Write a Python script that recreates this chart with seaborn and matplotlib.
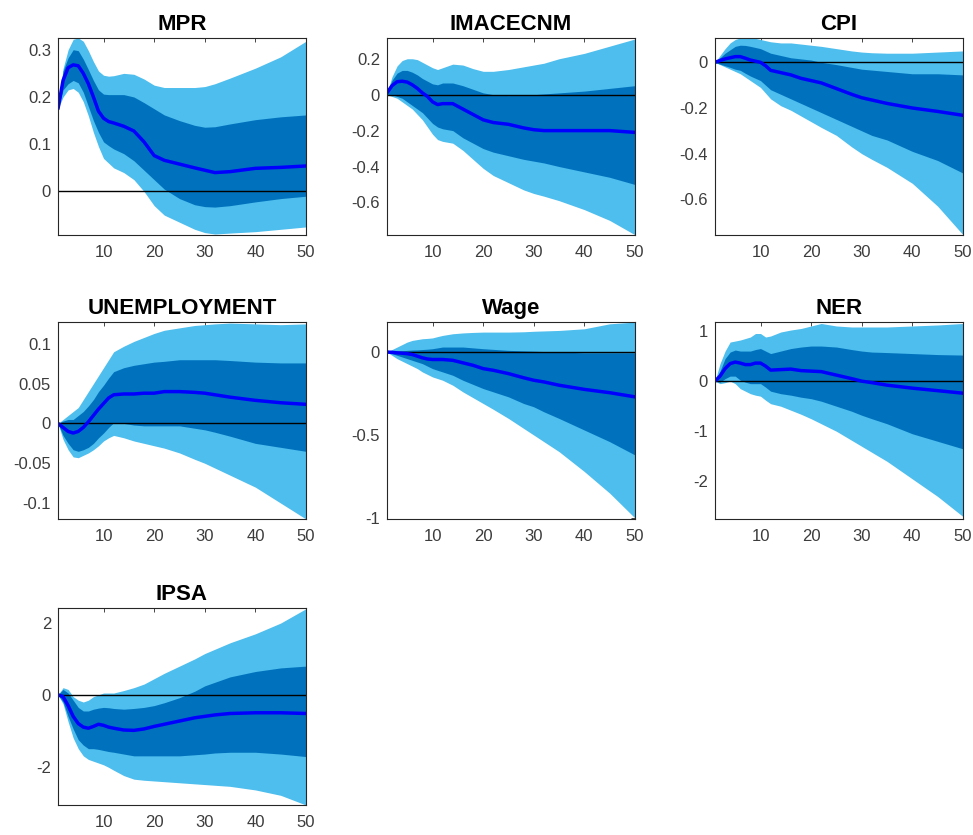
import seaborn as sns
import matplotlib.pyplot as plt
import pandas as pd

# horizons (periods after the shock)
H = [1, 2, 3, 4, 5, 6, 7, 8, 9, 10, 11, 12, 14, 16, 18, 20, 22, 25, 28, 30, 32, 35, 40, 45, 50]

# MPR
mpr_med = [0.175, 0.235, 0.262, 0.268, 0.266, 0.25, 0.228, 0.2, 0.17, 0.155, 0.148, 0.145, 0.138, 0.128, 0.105, 0.076, 0.066, 0.058, 0.05, 0.045, 0.04, 0.042, 0.049, 0.051, 0.054]
mpr_d_up = [0.175, 0.255, 0.283, 0.30, 0.298, 0.28, 0.258, 0.235, 0.215, 0.206, 0.205, 0.205, 0.205, 0.2, 0.188, 0.175, 0.162, 0.15, 0.14, 0.136, 0.137, 0.143, 0.152, 0.158, 0.162]
mpr_d_lo = [0.175, 0.215, 0.228, 0.235, 0.23, 0.21, 0.18, 0.15, 0.125, 0.105, 0.097, 0.09, 0.08, 0.065, 0.045, 0.025, 0.005, -0.015, -0.028, -0.032, -0.033, -0.03, -0.022, -0.015, -0.01]
mpr_l_up = [0.175, 0.26, 0.30, 0.322, 0.325, 0.318, 0.298, 0.275, 0.255, 0.246, 0.244, 0.245, 0.25, 0.248, 0.238, 0.225, 0.22, 0.22, 0.22, 0.222, 0.228, 0.24, 0.261, 0.285, 0.318]
mpr_l_lo = [0.175, 0.2, 0.215, 0.218, 0.21, 0.19, 0.16, 0.125, 0.095, 0.07, 0.06, 0.05, 0.04, 0.025, 0.0, -0.03, -0.05, -0.065, -0.08, -0.087, -0.09, -0.088, -0.085, -0.08, -0.075]

# IMACECNM
ima_med = [0.01, 0.05, 0.072, 0.075, 0.07, 0.055, 0.035, 0.01, -0.01, -0.04, -0.055, -0.05, -0.05, -0.08, -0.11, -0.14, -0.155, -0.165, -0.185, -0.195, -0.2, -0.2, -0.2, -0.2, -0.21]
ima_d_up = [0.01, 0.08, 0.12, 0.135, 0.135, 0.125, 0.11, 0.09, 0.075, 0.06, 0.055, 0.065, 0.065, 0.05, 0.03, 0.01, 0.0, -0.005, -0.003, 0.0, 0.004, 0.01, 0.02, 0.035, 0.05]
ima_d_lo = [0.0, 0.0, -0.01, -0.02, -0.04, -0.06, -0.08, -0.1, -0.13, -0.16, -0.18, -0.19, -0.2, -0.24, -0.27, -0.3, -0.32, -0.34, -0.36, -0.37, -0.38, -0.4, -0.43, -0.46, -0.5]
ima_l_up = [0.01, 0.1, 0.16, 0.19, 0.2, 0.2, 0.195, 0.18, 0.165, 0.15, 0.14, 0.15, 0.17, 0.165, 0.145, 0.13, 0.13, 0.14, 0.155, 0.165, 0.175, 0.2, 0.23, 0.27, 0.31]
ima_l_lo = [0.0, -0.01, -0.02, -0.04, -0.06, -0.08, -0.11, -0.14, -0.18, -0.22, -0.25, -0.26, -0.27, -0.31, -0.36, -0.41, -0.45, -0.49, -0.53, -0.55, -0.565, -0.59, -0.64, -0.7, -0.78]

# CPI
cpi_med = [0, 0.008, 0.015, 0.02, 0.025, 0.025, 0.018, 0.01, 0.005, 0.0, -0.015, -0.035, -0.045, -0.055, -0.07, -0.08, -0.09, -0.115, -0.14, -0.155, -0.165, -0.18, -0.2, -0.215, -0.232]
cpi_d_up = [0, 0.02, 0.04, 0.055, 0.07, 0.075, 0.074, 0.07, 0.065, 0.06, 0.05, 0.04, 0.03, 0.02, 0.015, 0.01, 0.0, -0.01, -0.022, -0.03, -0.034, -0.04, -0.05, -0.05, -0.055]
cpi_d_lo = [0, -0.008, -0.015, -0.022, -0.03, -0.035, -0.048, -0.06, -0.07, -0.08, -0.1, -0.12, -0.14, -0.16, -0.18, -0.2, -0.22, -0.25, -0.28, -0.3, -0.32, -0.34, -0.39, -0.43, -0.485]
cpi_l_up = [0, 0.03, 0.06, 0.085, 0.1, 0.107, 0.107, 0.107, 0.105, 0.1, 0.095, 0.09, 0.085, 0.085, 0.08, 0.075, 0.07, 0.06, 0.05, 0.045, 0.042, 0.04, 0.04, 0.045, 0.05]
cpi_l_lo = [0, -0.01, -0.02, -0.03, -0.04, -0.05, -0.065, -0.08, -0.095, -0.11, -0.135, -0.16, -0.19, -0.21, -0.235, -0.26, -0.285, -0.32, -0.37, -0.4, -0.425, -0.46, -0.53, -0.63, -0.755]

# UNEMPLOYMENT
une_med = [0, -0.005, -0.01, -0.012, -0.01, -0.005, 0.002, 0.01, 0.018, 0.025, 0.032, 0.036, 0.037, 0.037, 0.038, 0.038, 0.04, 0.04, 0.039, 0.038, 0.036, 0.033, 0.029, 0.026, 0.024]
une_d_up = [0, 0.003, 0.005, 0.005, 0.01, 0.015, 0.022, 0.03, 0.04, 0.048, 0.057, 0.065, 0.07, 0.073, 0.075, 0.077, 0.078, 0.08, 0.08, 0.08, 0.08, 0.079, 0.077, 0.076, 0.076]
une_d_lo = [0, -0.015, -0.025, -0.033, -0.035, -0.033, -0.03, -0.025, -0.018, -0.012, -0.005, 0.001, 0.0, -0.002, -0.003, -0.003, -0.003, -0.003, -0.006, -0.008, -0.011, -0.016, -0.025, -0.03, -0.035]
une_l_up = [0, 0.005, 0.01, 0.015, 0.02, 0.03, 0.04, 0.05, 0.06, 0.07, 0.08, 0.09, 0.097, 0.103, 0.108, 0.113, 0.117, 0.12, 0.123, 0.124, 0.125, 0.126, 0.125, 0.124, 0.125]
une_l_lo = [0, -0.02, -0.033, -0.042, -0.043, -0.04, -0.037, -0.033, -0.028, -0.022, -0.018, -0.015, -0.018, -0.022, -0.025, -0.028, -0.031, -0.037, -0.045, -0.05, -0.056, -0.065, -0.08, -0.1, -0.12]

# Wage
wag_med = [0, -0.002, -0.005, -0.007, -0.01, -0.015, -0.025, -0.035, -0.042, -0.045, -0.045, -0.045, -0.05, -0.065, -0.08, -0.1, -0.11, -0.13, -0.155, -0.17, -0.18, -0.2, -0.225, -0.245, -0.27]
wag_d_up = [0, 0.003, 0.005, 0.007, 0.01, 0.012, 0.013, 0.015, 0.017, 0.02, 0.025, 0.03, 0.03, 0.03, 0.025, 0.02, 0.016, 0.01, 0.007, 0.005, 0.003, 0.0, -0.005, -0.005, -0.005]
wag_d_lo = [0, -0.01, -0.02, -0.03, -0.04, -0.05, -0.06, -0.07, -0.085, -0.1, -0.11, -0.12, -0.14, -0.17, -0.195, -0.22, -0.24, -0.27, -0.31, -0.33, -0.36, -0.4, -0.47, -0.54, -0.62]
wag_l_up = [0, 0.015, 0.03, 0.045, 0.06, 0.07, 0.075, 0.08, 0.082, 0.085, 0.093, 0.1, 0.11, 0.115, 0.118, 0.12, 0.12, 0.12, 0.122, 0.125, 0.127, 0.13, 0.14, 0.17, 0.18]
wag_l_lo = [0, -0.02, -0.04, -0.055, -0.07, -0.085, -0.1, -0.12, -0.135, -0.15, -0.16, -0.17, -0.2, -0.24, -0.275, -0.31, -0.345, -0.4, -0.46, -0.5, -0.54, -0.6, -0.72, -0.85, -1.0]

# NER
ner_med = [0, 0.1, 0.25, 0.35, 0.38, 0.36, 0.33, 0.33, 0.36, 0.36, 0.3, 0.22, 0.23, 0.24, 0.21, 0.2, 0.19, 0.12, 0.05, 0.0, -0.03, -0.08, -0.14, -0.19, -0.24]
ner_d_up = [0, 0.2, 0.45, 0.58, 0.62, 0.6, 0.6, 0.6, 0.63, 0.65, 0.6, 0.55, 0.6, 0.65, 0.68, 0.7, 0.7, 0.68, 0.63, 0.6, 0.58, 0.57, 0.55, 0.53, 0.52]
ner_d_lo = [0, -0.02, 0.05, 0.1, 0.1, 0.02, -0.02, -0.05, -0.05, -0.05, -0.12, -0.2, -0.25, -0.28, -0.32, -0.35, -0.4, -0.5, -0.6, -0.68, -0.75, -0.85, -1.05, -1.2, -1.35]
ner_l_up = [0, 0.35, 0.6, 0.78, 0.8, 0.82, 0.85, 0.88, 0.95, 0.95, 0.88, 0.9, 0.98, 1.02, 1.05, 1.1, 1.15, 1.1, 1.08, 1.08, 1.08, 1.08, 1.1, 1.12, 1.15]
ner_l_lo = [0, -0.05, -0.03, 0.0, -0.05, -0.15, -0.2, -0.25, -0.28, -0.3, -0.38, -0.45, -0.5, -0.58, -0.66, -0.75, -0.85, -1.0, -1.18, -1.3, -1.42, -1.6, -1.95, -2.3, -2.7]

# IPSA
ips_med = [0, -0.05, -0.3, -0.6, -0.8, -0.9, -0.93, -0.88, -0.82, -0.85, -0.9, -0.93, -0.98, -0.99, -0.95, -0.88, -0.82, -0.73, -0.64, -0.6, -0.56, -0.52, -0.5, -0.5, -0.52]
ips_d_up = [0, 0.15, 0.05, -0.15, -0.35, -0.45, -0.45, -0.4, -0.37, -0.35, -0.36, -0.38, -0.4, -0.38, -0.35, -0.3, -0.22, -0.08, 0.1, 0.25, 0.35, 0.5, 0.65, 0.75, 0.8]
ips_d_lo = [0, -0.2, -0.6, -0.95, -1.25, -1.4, -1.5, -1.5, -1.52, -1.55, -1.58, -1.6, -1.65, -1.7, -1.7, -1.7, -1.7, -1.7, -1.67, -1.65, -1.62, -1.6, -1.6, -1.65, -1.72]
ips_l_up = [0, 0.2, 0.15, -0.05, -0.15, -0.2, -0.15, -0.05, 0.0, 0.05, 0.05, 0.05, 0.12, 0.2, 0.3, 0.45, 0.6, 0.8, 1.0, 1.15, 1.27, 1.45, 1.7, 2.0, 2.4]
ips_l_lo = [0, -0.25, -0.75, -1.2, -1.5, -1.7, -1.8, -1.85, -1.9, -1.95, -2.02, -2.1, -2.25, -2.35, -2.38, -2.4, -2.42, -2.45, -2.48, -2.5, -2.52, -2.55, -2.65, -2.8, -3.07]

titles = ["MPR", "IMACECNM", "CPI", "UNEMPLOYMENT", "Wage", "NER", "IPSA"]
meds = [mpr_med, ima_med, cpi_med, une_med, wag_med, ner_med, ips_med]
d_ups = [mpr_d_up, ima_d_up, cpi_d_up, une_d_up, wag_d_up, ner_d_up, ips_d_up]
d_los = [mpr_d_lo, ima_d_lo, cpi_d_lo, une_d_lo, wag_d_lo, ner_d_lo, ips_d_lo]
l_ups = [mpr_l_up, ima_l_up, cpi_l_up, une_l_up, wag_l_up, ner_l_up, ips_l_up]
l_los = [mpr_l_lo, ima_l_lo, cpi_l_lo, une_l_lo, wag_l_lo, ner_l_lo, ips_l_lo]
ylims = [(-0.092, 0.325), (-0.781, 0.316), (-0.756, 0.107), (-0.12, 0.1274),
         (-1.006, 0.181), (-2.75, 1.18), (-3.07, 2.42)]
yticks = [[0, 0.1, 0.2, 0.3], [-0.6, -0.4, -0.2, 0, 0.2], [-0.6, -0.4, -0.2, 0],
          [-0.1, -0.05, 0, 0.05, 0.1], [-1, -0.5, 0], [-2, -1, 0, 1], [-2, 0, 2]]
xticks = [10, 20, 30, 40, 50]

sns.set_style("white")
plt.rcParams['font.family'] = ['Liberation Sans', 'DejaVu Sans']

light = "#4DBEEE"
dark = "#0072BD"
grey = "#262626"

fig = plt.figure(figsize=(9.73, 8.35), dpi=100)
lefts = [0.0596, 0.3977, 0.7348]
bottoms = [0.7186, 0.3784, 0.0359]
w, h = 0.2549, 0.236

for i, name in enumerate(titles):
    r, c = divmod(i, 3)
    ax = fig.add_axes([lefts[c], bottoms[r], w, h])
    df = pd.DataFrame({"h": H, "med": meds[i]})
    ax.fill_between(H, l_los[i], l_ups[i], color=light, lw=0)
    ax.fill_between(H, d_los[i], d_ups[i], color=dark, lw=0)
    ax.axhline(0, color="black", lw=1)
    sns.lineplot(data=df, x="h", y="med", ax=ax, color="blue", lw=2.5)
    ax.set_xlim(1, 50)
    ax.set_ylim(*ylims[i])
    ax.set_xticks(xticks)
    ax.set_yticks(yticks[i])
    ax.set_yticklabels([format(v, "g") for v in yticks[i]])
    ax.set_xlabel("")
    ax.set_ylabel("")
    ax.set_title(name, fontsize=16, fontweight="bold", color="black", pad=6)
    ax.tick_params(direction="in", length=3, width=0.6, labelsize=12,
                   colors=grey, labelcolor="#3c3c3c", top=True, right=True, pad=5)
    ax.tick_params(axis="x", pad=7)
    for s in ax.spines.values():
        s.set_color(grey)
        s.set_linewidth(0.8)

fig.savefig("out.png", dpi=100)
